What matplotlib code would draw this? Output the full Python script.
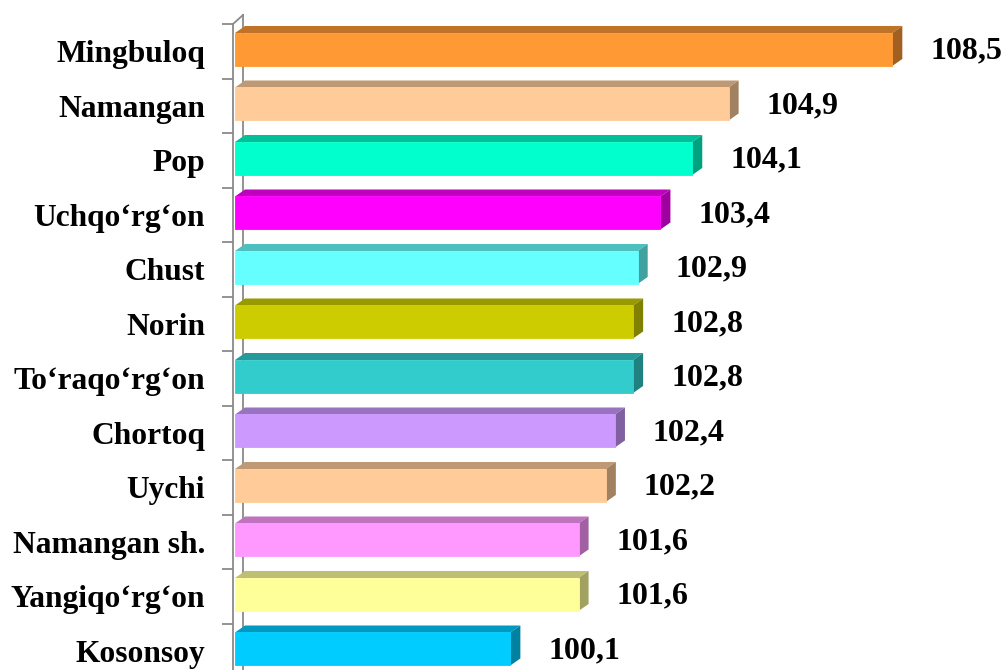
import matplotlib
matplotlib.use("Agg")
import matplotlib.pyplot as plt
from matplotlib.patches import Polygon
import matplotlib.colors as mcolors

categories = ["Mingbuloq", "Namangan", "Pop", "Uchqo\u2018rg\u2018on", "Chust", "Norin",
              "To\u2018raqo\u2018rg\u2018on", "Chortoq", "Uychi", "Namangan sh.",
              "Yangiqo\u2018rg\u2018on", "Kosonsoy"]
values = [108.5, 104.9, 104.1, 103.4, 102.9, 102.8, 102.8, 102.4, 102.2, 101.6, 101.6, 100.1]
value_labels = ["108,5", "104,9", "104,1", "103,4", "102,9", "102,8", "102,8",
                "102,4", "102,2", "101,6", "101,6", "100,1"]
colors = ["#FF9933", "#FFCC99", "#00FFCC", "#FF00FF", "#66FFFF", "#CCCC00",
          "#33CCCC", "#CC99FF", "#FFCC99", "#FF99FF", "#FFFF99", "#00CCFF"]

XMIN, XMAX = 94, 111

W, H = 1006, 670
fig = plt.figure(figsize=(W / 100, H / 100), dpi=100)
ax_left, ax_right = 233, 1006
ax_top, ax_bot = 24, 678
ax = fig.add_axes([ax_left / W, (H - ax_bot) / H, (ax_right - ax_left) / W, (ax_bot - ax_top) / H])
ax.set_xlim(XMIN, XMAX)
n = len(categories)
ax.set_ylim(n - 0.5, -0.5)

px_x = (XMAX - XMIN) / (ax_right - ax_left)
px_y = n / (ax_bot - ax_top)
dx = 10 * px_x
dy = 7 * px_y
wall_dy = 9 * px_y

def shade(c, f):
    r, g, b = mcolors.to_rgb(c)
    return (r * f, g * f, b * f)

top_off = -0.335
bot_off = 0.27
for i, (v, c) in enumerate(zip(values, colors)):
    y0 = i + top_off
    y1 = i + bot_off
    x0 = XMIN + 2 * px_x
    front = Polygon([(x0, y0), (v, y0), (v, y1), (x0, y1)], closed=True,
                    facecolor=c, edgecolor=shade(c, 1.0), lw=0.6, zorder=3)
    top = Polygon([(x0, y0), (v, y0), (v + dx, y0 - dy), (x0 + dx, y0 - dy)], closed=True,
                  facecolor=shade(c, 0.75), edgecolor='none', zorder=3)
    side = Polygon([(v, y0), (v, y1), (v + dx, y1 - dy), (v + dx, y0 - dy)], closed=True,
                   facecolor=shade(c, 0.63), edgecolor='none', zorder=3)
    for p in (top, side, front):
        ax.add_patch(p)
    ax.text(v + 38 * px_x, i + 0.0, value_labels[i], ha='left', va='center',
            fontsize=23, fontweight='bold', family='Liberation Serif', color='black', zorder=4)

# back wall
wall_col = "#8a8a8a"
ax.plot([XMIN + dx, XMIN + dx], [-0.5 - wall_dy, n - 0.5], color=wall_col, lw=1.3, clip_on=False, zorder=1)
ax.plot([XMIN, XMIN + dx], [-0.5, -0.5 - wall_dy], color=wall_col, lw=1.3, clip_on=False, zorder=1)

for s in ['top', 'right', 'bottom']:
    ax.spines[s].set_visible(False)
ax.spines['left'].set_color(wall_col)
ax.spines['left'].set_linewidth(1.3)
ax.set_xticks([])
ax.set_yticks(range(n))
ax.set_yticklabels(categories, fontsize=22.7, fontweight='bold', family='Liberation Serif')
ax.tick_params(axis='y', which='major', length=0, pad=20)
ax.set_yticks([i - 0.5 for i in range(n + 1)], minor=True)
ax.tick_params(axis='y', which='minor', length=8, width=1.3, color=wall_col)

fig.savefig("out.png", dpi=100)
